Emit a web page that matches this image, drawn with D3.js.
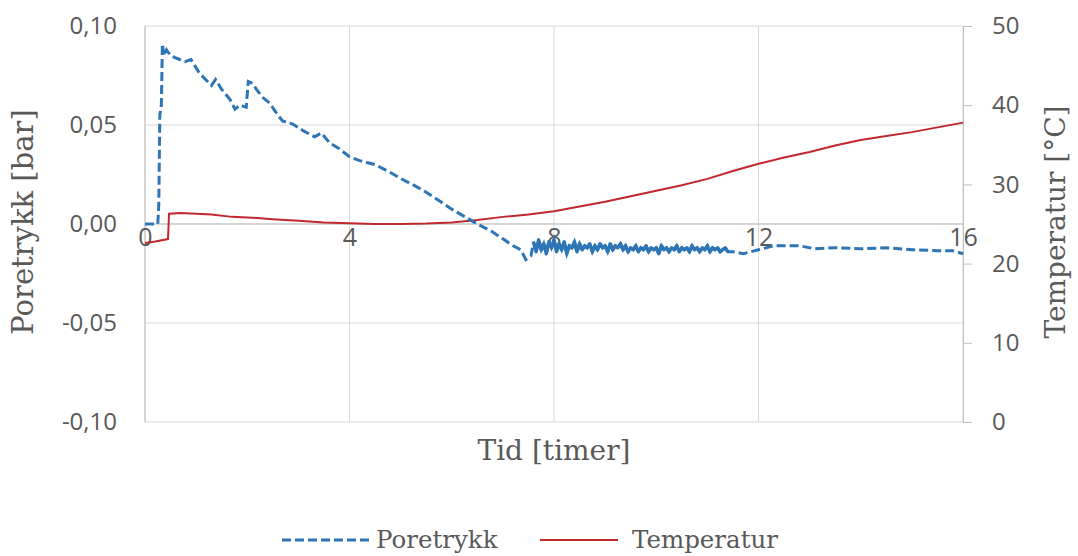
<!DOCTYPE html>
<html>
<head>
<meta charset="utf-8">
<script src="https://cdnjs.cloudflare.com/ajax/libs/d3/7.8.5/d3.min.js"></script>
<style>
  body { margin: 0; background: #fff; }
  svg { display: block; }
</style>
</head>
<body>
<svg id="chart" width="1078" height="556"></svg>
<script>
// Poretrykk [bar] vs tid [timer]
var poreTime = [0, 0.25, 0.27, 0.29, 0.32, 0.34, 0.37, 0.42, 0.5, 0.78, 0.9, 1.07, 1.3, 1.38, 1.5, 1.66, 1.76, 1.85, 1.98, 2.02, 2.1, 2.18, 2.3, 2.44, 2.6, 2.69, 2.89, 3.1, 3.32, 3.45, 3.61, 3.8, 4, 4.2, 4.5, 4.8, 5, 5.3, 5.5, 5.8, 6, 6.3, 6.5, 6.8, 7, 7.2, 7.35, 7.45, 7.55];
var poreVal = [0, 0, 0.01, 0.055, 0.06, 0.091, 0.085, 0.088, 0.085, 0.082, 0.083, 0.076, 0.070, 0.073, 0.068, 0.063, 0.058, 0.060, 0.059, 0.072, 0.071, 0.068, 0.064, 0.061, 0.055, 0.052, 0.0505, 0.047, 0.044, 0.046, 0.041, 0.038, 0.034, 0.032, 0.030, 0.026, 0.023, 0.019, 0.016, 0.011, 0.0075, 0.003, 0.0, -0.004, -0.0075, -0.011, -0.013, -0.018, -0.016];

// noisy logger stretch, sampled every 0.05 h from 7.6 h
var noiseStart = 7.6, noiseStep = 0.05;
var noiseVal = [
  -0.009, -0.014, -0.008, -0.013, -0.010, -0.015, -0.009, -0.012, -0.008, -0.014,
  -0.010, -0.013, -0.009, -0.015, -0.011, -0.012, -0.009, -0.014, -0.010, -0.013,
  -0.011, -0.012, -0.010, -0.014, -0.011, -0.013, -0.010, -0.012, -0.011, -0.014,
  -0.010, -0.013, -0.011, -0.012, -0.010, -0.013, -0.011, -0.014, -0.012, -0.013,
  -0.011, -0.014, -0.012, -0.013, -0.011, -0.014, -0.012, -0.013, -0.012, -0.015,
  -0.011, -0.013, -0.012, -0.014, -0.012, -0.013, -0.011, -0.014, -0.012, -0.013,
  -0.012, -0.014, -0.011, -0.013, -0.012, -0.014, -0.012, -0.013,
  -0.011, -0.014, -0.012, -0.013, -0.012, -0.014, -0.013, -0.012, -0.014];

var tailTime = [11.5, 11.7, 12, 12.3, 12.8, 13.1, 13.5, 14, 14.5, 15, 15.5, 15.8, 16];
var tailVal = [-0.014, -0.015, -0.013, -0.011, -0.011, -0.0125, -0.012, -0.0125, -0.012, -0.013, -0.0135, -0.0135, -0.015];

// Temperatur [°C]
var tempTime = [0, 0.2, 0.45, 0.47, 0.7, 1, 1.3, 1.7, 2.1, 2.5, 3, 3.5, 4, 4.5, 5, 5.5, 6, 6.5, 7, 7.5, 8, 8.5, 9, 9.5, 10, 10.5, 11, 11.5, 12, 12.5, 13, 13.5, 14, 14.5, 15, 15.5, 16];
var tempVal = [22.6, 22.8, 23.1, 26.3, 26.4, 26.3, 26.2, 25.9, 25.8, 25.6, 25.4, 25.2, 25.1, 25.0, 25.0, 25.05, 25.2, 25.5, 25.9, 26.2, 26.6, 27.2, 27.8, 28.5, 29.2, 29.9, 30.7, 31.7, 32.6, 33.4, 34.1, 34.9, 35.6, 36.1, 36.6, 37.2, 37.8];

var xTicks = [0, 4, 8, 12, 16];
var yLeftTicks = [-0.1, -0.05, 0, 0.05, 0.1];
var yRightTicks = [0, 10, 20, 30, 40, 50];

var blue = "#2e75b6", red = "#c0282d", textCol = "#595959", gridCol = "#d9d9d9";

var svg = d3.select("#chart"),
    plotLeft = 145, plotRight = 963, plotTop = 26, plotBottom = 422;

var x = d3.scaleLinear().domain([0, 16]).range([plotLeft, plotRight]);
var y = d3.scaleLinear().domain([-0.1, 0.1]).range([plotBottom, plotTop]);
var y2 = d3.scaleLinear().domain([0, 50]).range([plotBottom, plotTop]);

// gridlines
svg.append("g").selectAll("line").data(yLeftTicks).enter().append("line")
    .attr("x1", plotLeft).attr("x2", plotRight)
    .attr("y1", function (d) { return y(d); }).attr("y2", function (d) { return y(d); })
    .attr("stroke", gridCol).attr("stroke-width", 1);
svg.append("g").selectAll("line").data(xTicks).enter().append("line")
    .attr("x1", function (d) { return x(d); }).attr("x2", function (d) { return x(d); })
    .attr("y1", plotTop).attr("y2", plotBottom)
    .attr("stroke", gridCol).attr("stroke-width", 1);

// axis lines
svg.append("line").attr("x1", plotLeft).attr("x2", plotLeft).attr("y1", plotTop).attr("y2", plotBottom)
    .attr("stroke", "#bfbfbf").attr("stroke-width", 1);
svg.append("line").attr("x1", plotLeft).attr("x2", plotRight).attr("y1", y(0)).attr("y2", y(0))
    .attr("stroke", "#bfbfbf").attr("stroke-width", 1);

// right axis with outward ticks
var yAxisR = d3.axisRight(y2).tickValues(yRightTicks).tickSizeInner(9).tickSizeOuter(0).tickPadding(20).tickFormat(d3.format("d"));
var gR = svg.append("g").attr("transform", "translate(" + plotRight + ",0)").call(yAxisR);
gR.select(".domain").attr("stroke", "#bfbfbf");
gR.selectAll(".tick line").attr("stroke", "#bfbfbf");
gR.selectAll("text").attr("fill", textCol).attr("font-family", "Open Sans").attr("font-size", 24);

// left tick labels
var yAxisL = d3.axisLeft(y).tickValues(yLeftTicks).tickSize(0).tickPadding(28)
    .tickFormat(function (d) { return d3.format(".2f")(d).replace(".", ",").replace("−", "-"); });
var gL = svg.append("g").attr("transform", "translate(" + plotLeft + ",0)").call(yAxisL);
gL.select(".domain").remove();
gL.selectAll("text").attr("fill", textCol).attr("font-family", "Open Sans").attr("font-size", 24);

// x tick labels sit under the zero line
var xAxis = d3.axisBottom(x).tickValues(xTicks).tickSize(0).tickPadding(4).tickFormat(d3.format("d"));
var gX = svg.append("g").attr("transform", "translate(0," + y(0) + ")").call(xAxis);
gX.select(".domain").remove();
gX.selectAll("text").attr("fill", textCol).attr("font-family", "Open Sans").attr("font-size", 25);

// series
var line = d3.line().x(function (d) { return x(d[0]); }).y(function (d) { return y(d[1]); });
var line2 = d3.line().x(function (d) { return x(d[0]); }).y(function (d) { return y2(d[1]); });

var tempData = tempTime.map(function (t, i) { return [t, tempVal[i]]; });
svg.append("path").datum(tempData).attr("d", line2)
    .attr("fill", "none").attr("stroke", red).attr("stroke-width", 2);

var noiseData = noiseVal.map(function (v, i) { return [noiseStart + i * noiseStep, v]; });
var poreData = poreTime.map(function (t, i) { return [t, poreVal[i]]; })
    .concat(noiseData)
    .concat(tailTime.map(function (t, i) { return [t, tailVal[i]]; }));
svg.append("path").datum(poreData).attr("d", line)
    .attr("fill", "none").attr("stroke", blue).attr("stroke-width", 3)
    .attr("stroke-dasharray", "9,4");
// dense samples merge into a solid band
svg.append("path").datum(noiseData).attr("d", line)
    .attr("fill", "none").attr("stroke", blue).attr("stroke-width", 3.5)
    .attr("stroke-linejoin", "round");

// axis titles
svg.append("text").attr("transform", "translate(33,222) rotate(-90)")
    .attr("text-anchor", "middle").attr("font-family", "DejaVu Serif").attr("font-size", 29)
    .attr("fill", textCol).text("Poretrykk [bar]");
svg.append("text").attr("transform", "translate(1065,222) rotate(-90)")
    .attr("text-anchor", "middle").attr("font-family", "DejaVu Serif").attr("font-size", 28)
    .attr("fill", textCol).text("Temperatur [°C]");
svg.append("text").attr("x", 554).attr("y", 460)
    .attr("text-anchor", "middle").attr("font-family", "DejaVu Serif").attr("font-size", 28)
    .attr("fill", textCol).text("Tid [timer]");

// legend
var lg = svg.append("g");
lg.append("line").attr("x1", 282).attr("x2", 370).attr("y1", 540).attr("y2", 540)
    .attr("stroke", blue).attr("stroke-width", 3).attr("stroke-dasharray", "9,4");
lg.append("text").attr("x", 376).attr("y", 548).attr("font-family", "DejaVu Serif").attr("font-size", 24.5)
    .attr("fill", textCol).text("Poretrykk");
lg.append("line").attr("x1", 540).attr("x2", 618).attr("y1", 540).attr("y2", 540)
    .attr("stroke", red).attr("stroke-width", 2);
lg.append("text").attr("x", 632).attr("y", 548).attr("font-family", "DejaVu Serif").attr("font-size", 24.5)
    .attr("fill", textCol).text("Temperatur");
</script>
</body>
</html>
